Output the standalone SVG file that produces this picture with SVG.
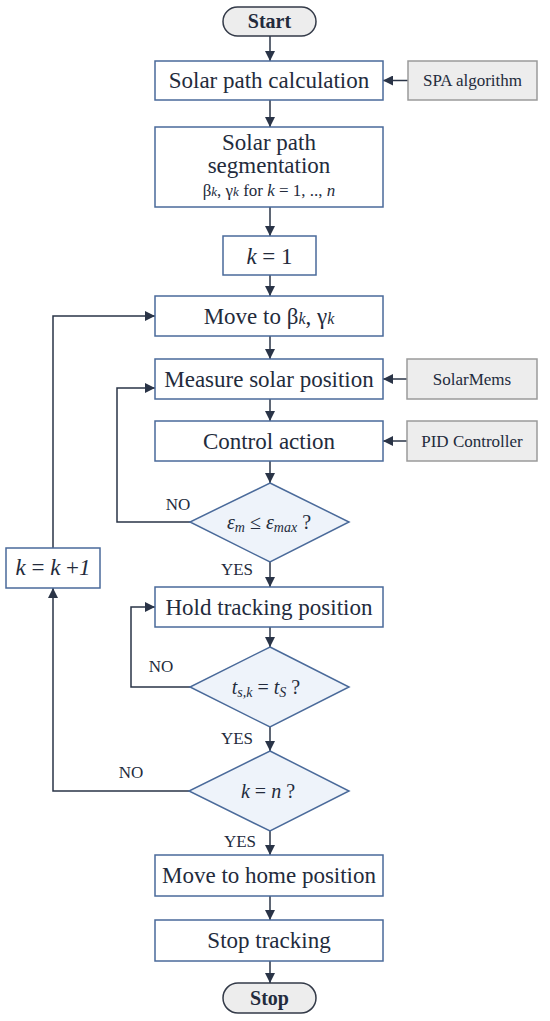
<svg xmlns="http://www.w3.org/2000/svg" width="550" height="1021" viewBox="0 0 550 1021">
<style>
.box{fill:#fff;stroke:#4a6a9a;stroke-width:1.5}
.ext{fill:#ededed;stroke:#9a9a9a;stroke-width:1.5}
.term{fill:#ededed;stroke:#333a48;stroke-width:1.5}
.dia{fill:#eef3fa;stroke:#4a6a9a;stroke-width:1.5}
text{font-family:'Liberation Serif','Times New Roman',Times,'DejaVu Serif',serif;fill:#232b3c;text-anchor:middle}
.t{font-size:23px}
.s{font-size:17px}
.d{font-size:20px}
.b{font-size:20px;font-weight:bold}
.l{font-size:17px}
.c{fill:none;stroke:#2a3447;stroke-width:1.5}
.i{font-style:italic}
</style>
<defs>
<marker id="ah" viewBox="0 0 10 10" refX="10" refY="5" markerWidth="10" markerHeight="10" markerUnits="userSpaceOnUse" orient="auto">
<path d="M0,0 L10,5 L0,10 z" fill="#2a3447"/>
</marker>
</defs>
<g id="connectors">
<line class="c" x1="270" y1="36" x2="270" y2="61" marker-end="url(#ah)"/>
<line class="c" x1="408" y1="80.5" x2="383" y2="80.5" marker-end="url(#ah)"/>
<line class="c" x1="270" y1="100" x2="270" y2="127" marker-end="url(#ah)"/>
<line class="c" x1="270" y1="207" x2="270" y2="236" marker-end="url(#ah)"/>
<line class="c" x1="270" y1="275" x2="270" y2="296" marker-end="url(#ah)"/>
<line class="c" x1="270" y1="336" x2="270" y2="359" marker-end="url(#ah)"/>
<line class="c" x1="407" y1="379" x2="383" y2="379" marker-end="url(#ah)"/>
<line class="c" x1="270" y1="399" x2="270" y2="421" marker-end="url(#ah)"/>
<line class="c" x1="407" y1="441" x2="383" y2="441" marker-end="url(#ah)"/>
<line class="c" x1="270" y1="461" x2="270" y2="483" marker-end="url(#ah)"/>
<polyline class="c" points="190,522 117,522 117,388 155,388" marker-end="url(#ah)"/>
<line class="c" x1="270" y1="562" x2="270" y2="587" marker-end="url(#ah)"/>
<line class="c" x1="270" y1="627" x2="270" y2="647" marker-end="url(#ah)"/>
<polyline class="c" points="190,687 131,687 131,607 155,607" marker-end="url(#ah)"/>
<line class="c" x1="270" y1="727" x2="270" y2="751" marker-end="url(#ah)"/>
<polyline class="c" points="190,791 53,791 53,588" marker-end="url(#ah)"/>
<polyline class="c" points="53,548 53,316 155,316" marker-end="url(#ah)"/>
<line class="c" x1="270" y1="831" x2="270" y2="855" marker-end="url(#ah)"/>
<line class="c" x1="270" y1="896" x2="270" y2="920" marker-end="url(#ah)"/>
<line class="c" x1="270" y1="961" x2="270" y2="983" marker-end="url(#ah)"/>
<text class="l" x="178" y="510">NO</text>
<text class="l" x="237" y="575">YES</text>
<text class="l" x="161" y="672">NO</text>
<text class="l" x="237" y="744">YES</text>
<text class="l" x="131" y="778">NO</text>
<text class="l" x="240" y="847">YES</text>
</g>
<g id="start"><rect class="term" x="223" y="7" width="93" height="29" rx="14.5"/><text class="b" x="269.5" y="28">Start</text></g>
<g id="calc"><rect class="box" x="155" y="61" width="228" height="39"/><text class="t" x="269" y="88">Solar path calculation</text></g>
<g id="spa"><rect class="ext" x="408" y="61" width="129" height="39"/><text class="s" x="472.5" y="86">SPA algorithm</text></g>
<g id="segment"><rect class="box" x="155" y="127" width="228" height="80"/>
<text class="t" x="269" y="150">Solar path</text>
<text class="t" x="269" y="173">segmentation</text>
<text class="s" x="269" y="196">β<tspan class="i" font-size="13">k</tspan>, γ<tspan class="i" font-size="13">k</tspan> for <tspan class="i">k</tspan> = 1, .., <tspan class="i">n</tspan></text></g>
<g id="kinit"><rect class="box" x="223" y="236" width="93" height="39"/><text class="t" x="269.5" y="264"><tspan class="i">k</tspan> = 1</text></g>
<g id="move"><rect class="box" x="155" y="296" width="228" height="40"/><text class="t" x="269" y="324">Move to β<tspan class="i" font-size="16">k</tspan>, γ<tspan class="i" font-size="16">k</tspan></text></g>
<g id="measure"><rect class="box" x="155" y="359" width="228" height="40"/><text class="t" x="269" y="387">Measure solar position</text></g>
<g id="solarmems"><rect class="ext" x="407" y="359" width="130" height="40"/><text class="s" x="472" y="385">SolarMems</text></g>
<g id="control"><rect class="box" x="155" y="421" width="228" height="40"/><text class="t" x="269" y="449">Control action</text></g>
<g id="pid"><rect class="ext" x="407" y="421" width="130" height="40"/><text class="s" x="472" y="447">PID Controller</text></g>
<g id="d1"><polygon class="dia" points="270,483 349,522 270,562 190,522"/><text class="d" x="269" y="529"><tspan class="i">ε<tspan font-size="14" dy="3">m</tspan></tspan><tspan dy="-3"> ≤ </tspan><tspan class="i">ε<tspan font-size="14" dy="3">max</tspan></tspan><tspan dy="-3"> ?</tspan></text></g>
<g id="hold"><rect class="box" x="155" y="587" width="228" height="40"/><text class="t" x="269" y="615">Hold tracking position</text></g>
<g id="d2"><polygon class="dia" points="270,647 349,687 270,727 190,687"/><text class="d" x="266" y="694"><tspan class="i">t<tspan font-size="14" dy="3">s,k</tspan></tspan><tspan dy="-3"> = </tspan><tspan class="i">t<tspan font-size="14" dy="3">S</tspan></tspan><tspan dy="-3"> ?</tspan></text></g>
<g id="kinc"><rect class="box" x="6" y="548" width="94" height="40"/><text class="t" x="53" y="575" font-size="20"><tspan class="i">k</tspan> = <tspan class="i">k</tspan> +<tspan class="i">1</tspan></text></g>
<g id="d3"><polygon class="dia" points="270,751 349,791 270,831 189,791"/><text class="d" x="268" y="798"><tspan class="i">k</tspan> = <tspan class="i">n</tspan> ?</text></g>
<g id="home"><rect class="box" x="155" y="855" width="228" height="41"/><text class="t" x="269" y="883">Move to home position</text></g>
<g id="stoptrack"><rect class="box" x="155" y="920" width="228" height="41"/><text class="t" x="269" y="948">Stop tracking</text></g>
<g id="stop"><rect class="term" x="223" y="983" width="93" height="30" rx="15"/><text class="b" x="269.5" y="1005">Stop</text></g>
</svg>
